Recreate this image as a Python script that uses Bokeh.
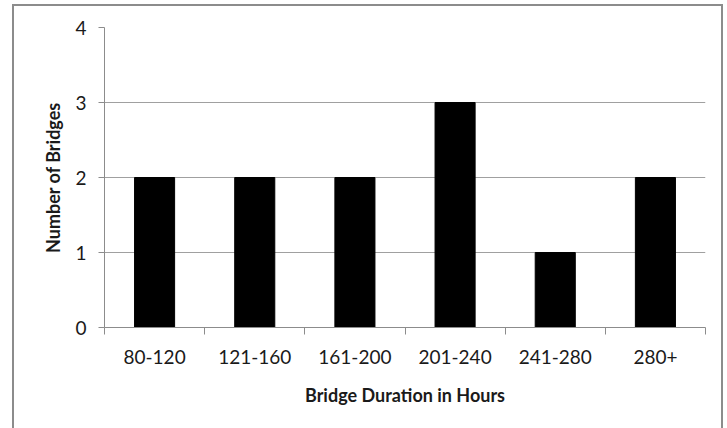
from bokeh.plotting import figure
from bokeh.models import Range1d, LinearAxis, FixedTicker, ColumnDataSource
from bokeh.embed import file_html
from bokeh.resources import INLINE

categories = ["80-120", "121-160", "161-200", "201-240", "241-280", "280+"]
counts = [2, 2, 2, 3, 1, 2]
y_ticks = [0, 1, 2, 3, 4]

FONT = "Lato"
GRAY = "#8c8c8c"
TXT = "#1a1a1a"

n = len(categories)
centers = [i + 0.5 for i in range(n)]
src = ColumnDataSource(dict(x=centers, top=counts, cat=categories))

W, H = 711, 424
p = figure(
    width=W, height=H,
    x_range=Range1d(0, n),
    y_range=Range1d(0, 4),
    output_backend="svg", toolbar_location=None,
    x_axis_location=None, y_axis_location=None,
    min_border_left=90, min_border_right=20, min_border_top=21, min_border_bottom=103,
)
# outer chart-area border (left, top, right; the bottom lies below the window)
p.styles = {
    "margin-left": "12px",
    "margin-top": "4px",
    "border-left": f"2px solid {GRAY}",
    "border-top": f"2px solid {GRAY}",
    "border-right": f"2px solid {GRAY}",
    "box-sizing": "border-box",
}
p.outline_line_color = None
p.xgrid.grid_line_color = None
p.ygrid.grid_line_color = "#a0a0a0"
p.ygrid.ticker = FixedTicker(ticks=y_ticks)

p.vbar(x="x", top="top", width=0.4, color="black", source=src)

# y axis
yax = LinearAxis(ticker=FixedTicker(ticks=y_ticks))
yax.axis_label = "Number of Bridges"
yax.axis_label_text_font = FONT
yax.axis_label_text_font_style = "bold"
yax.axis_label_text_font_size = "18px"
yax.axis_label_text_color = TXT
yax.axis_label_standoff = 8
yax.major_label_text_font = FONT
yax.major_label_text_font_size = "19px"
yax.major_label_text_color = TXT
yax.major_label_standoff = 12
yax.axis_line_color = GRAY
yax.major_tick_line_color = GRAY
yax.major_tick_out = 6
yax.major_tick_in = 0
yax.minor_tick_line_color = None
p.add_layout(yax, "left")

# boundary ticks axis (no labels)
tax = LinearAxis(ticker=FixedTicker(ticks=list(range(n + 1))))
tax.major_label_text_font_size = "1px"
tax.major_label_text_color = None
tax.major_label_standoff = 0
tax.axis_line_color = GRAY
tax.major_tick_line_color = GRAY
tax.major_tick_out = 7
tax.major_tick_in = 0
tax.minor_tick_line_color = None
p.add_layout(tax, "below")

# category labels axis
xax = LinearAxis(ticker=FixedTicker(ticks=centers))
xax.major_label_overrides = {c: lab for c, lab in zip(centers, categories)}
xax.axis_line_color = None
xax.major_tick_line_color = None
xax.major_tick_out = 0
xax.major_tick_in = 0
xax.minor_tick_line_color = None
xax.major_label_text_font = FONT
xax.major_label_text_font_size = "19px"
xax.major_label_text_color = TXT
xax.major_label_standoff = 15
xax.axis_label = "Bridge Duration in Hours"
xax.axis_label_text_font = FONT
xax.axis_label_text_font_style = "bold"
xax.axis_label_text_font_size = "18px"
xax.axis_label_text_color = TXT
xax.axis_label_standoff = 17
p.add_layout(xax, "below")

open("out.html", "w").write(file_html(p, INLINE))
